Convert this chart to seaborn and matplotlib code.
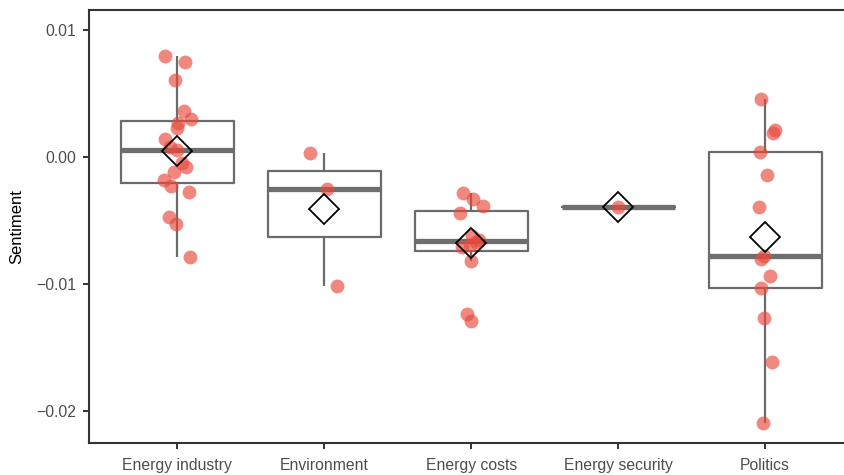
import matplotlib
matplotlib.use("Agg")
import matplotlib.pyplot as plt
import seaborn as sns
import pandas as pd
import numpy as np

# categorias e valores de sentimento
topics = ["Energy industry", "Environment", "Energy costs", "Energy security", "Politics"]

energy_industry = [0.00795, 0.00750, 0.00606, 0.00365, 0.00299, 0.00268, 0.00231,
                   0.00142, 0.00081, 0.00055, -0.00050, -0.00076, -0.00116, -0.00181,
                   -0.00226, -0.00278, -0.00470, -0.00530, -0.00785]
environment = [0.00034, -0.00252, -0.01013]
energy_costs = [-0.00286, -0.00333, -0.00386, -0.00438, -0.0062, -0.0065, -0.0067,
                -0.0069, -0.0071, -0.0082, -0.0124, -0.0129]
energy_security = [-0.0039]
politics = [0.00457, 0.00213, 0.00187, 0.00042, -0.00142, -0.00391, -0.0078, -0.00806,
            -0.00937, -0.01034, -0.01265, -0.01612, -0.02097]

yticks = [0.01, 0.00, -0.01, -0.02]

values = [energy_industry, environment, energy_costs, energy_security, politics]
df = pd.DataFrame({
    "topic": [t for t, v in zip(topics, values) for _ in v],
    "sentiment": [x for v in values for x in v],
})

sns.set_style("white")
plt.rcParams["font.family"] = ["Liberation Sans", "DejaVu Sans"]

fig = plt.figure(figsize=(8.45, 4.75), dpi=100)
ax = fig.add_axes([0.1053, 0.0674, 0.9046, 0.9116])

line_col = "#6b6b6b"
sns.boxplot(data=df, x="topic", y="sentiment", order=topics, ax=ax,
            width=0.77, fill=False, color=line_col, linewidth=1.6,
            showfliers=False, showcaps=False, showmeans=True,
            medianprops=dict(linewidth=3.8, color="#6e6e6e"),
            meanprops=dict(marker="D", markersize=15.5, markerfacecolor="none",
                           markeredgecolor="black", markeredgewidth=1.3, zorder=5))

np.random.seed(7)
sns.stripplot(data=df, x="topic", y="sentiment", order=topics, ax=ax,
              color="#E8493C", alpha=0.65, size=10, jitter=0.1, linewidth=0, zorder=3)

ax.set_xlim(-0.6, 4.6)
ax.set_ylim(-0.02252, 0.011575)
ax.set_yticks(yticks)
ax.set_yticklabels([f"{v:.2f}".replace("-", "\u2212") for v in yticks])
ax.set_xlabel("")
ax.set_ylabel("Sentiment", fontsize=12, color="black", labelpad=9)

for side in ["left", "bottom", "top"]:
    ax.spines[side].set_color("#333333")
    ax.spines[side].set_linewidth(1.5)
ax.spines["right"].set_visible(False)
ax.tick_params(axis="both", length=4.5, width=1.4, color="#333333",
               labelcolor="#4d4d4d", labelsize=11.3, direction="out", pad=4.5)
ax.tick_params(axis="x", bottom=True, pad=6)
ax.tick_params(axis="y", left=True)
ax.grid(False)

fig.savefig("out.png", dpi=100)
